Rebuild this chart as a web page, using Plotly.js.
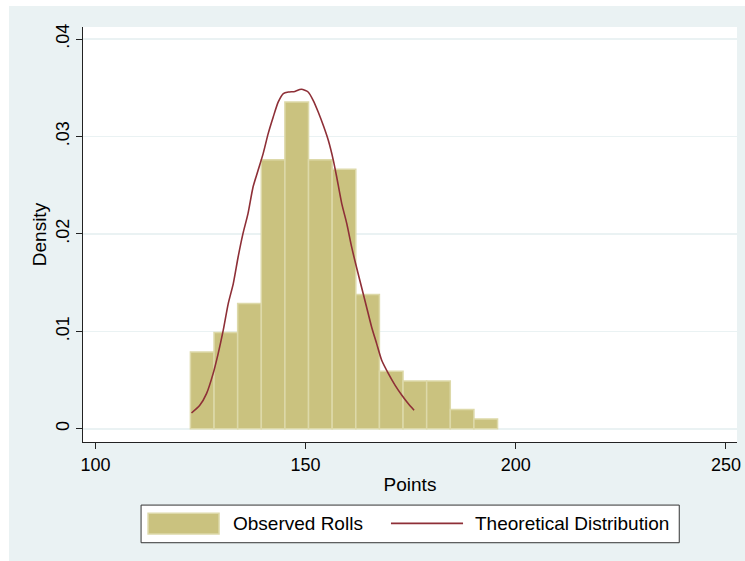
<!DOCTYPE html>
<html>
<head>
<meta charset="utf-8">
<script src="https://cdn.plot.ly/plotly-3.0.1.min.js"></script>
<style>
  html, body { margin: 0; padding: 0; background: #ffffff; width: 745px; height: 561px; overflow: hidden; }
  #chart { position: absolute; left: 9px; top: 6px; width: 736px; height: 555px; }
</style>
</head>
<body>
<div id="chart"></div>
<script>
// ---- data ----
const binStart = 122.6;
const binWidth = 5.62;
const densities = [0.00788, 0.00987, 0.01285, 0.02762, 0.03354, 0.02762, 0.02663,
                   0.01377, 0.0059, 0.00491, 0.00491, 0.00197, 0.00101];

const curveX = [122.86, 124.83, 126.43, 128.0, 129.2, 130.4, 131.6, 132.8, 133.95, 135.1,
                136.3, 137.5, 138.7, 139.9, 141.1, 142.3, 143.5, 144.7, 145.9, 147.45,
                148.6, 149.05, 150.6, 151.8, 153.0, 154.2, 155.4, 156.6, 157.4, 158.6,
                159.8, 160.95, 162.1, 163.3, 164.5, 165.7, 166.9, 168.1, 169.7, 171.3,
                172.9, 174.4, 175.8];
const curveY = [0.00162, 0.00241, 0.00361, 0.00566, 0.00772, 0.0101, 0.01285, 0.0149, 0.01763, 0.02003,
                0.02208, 0.02481, 0.02653, 0.02824, 0.03029, 0.0320, 0.03354, 0.0344, 0.03456, 0.03462,
                0.03481, 0.03484, 0.03456, 0.03371, 0.03251, 0.03114, 0.0296, 0.02755, 0.02584, 0.02311,
                0.02106, 0.01866, 0.0166, 0.01455, 0.0125, 0.01045, 0.00874, 0.00703, 0.00566, 0.00446,
                0.00344, 0.00259, 0.0019];

const xTicks = [100, 150, 200, 250];
const xTickLabels = ['100', '150', '200', '250'];
const yTicks = [0, 0.01, 0.02, 0.03, 0.04];
const yTickLabels = ['0', '.01', '.02', '.03', '.04'];

const seriesNames = ['Observed Rolls', 'Theoretical Distribution'];
const xTitle = 'Points';
const yTitle = 'Density';

// ---- styles ----
const BG = '#EAF2F3';
const BAR = '#CAC27F';
const BAR_EDGE = '#DDD9A9';
const CURVE = '#8E2F37';
const FONT = 'Liberation Sans, Arial, sans-serif';

const binCenters = densities.map((d, i) => binStart + binWidth * (i + 0.5));

const traces = [
  {
    type: 'bar',
    name: seriesNames[0],
    x: binCenters,
    y: densities,
    width: binWidth,
    marker: { color: BAR, line: { color: BAR_EDGE, width: 1.5 } },
    hoverinfo: 'x+y'
  },
  {
    type: 'scatter',
    mode: 'lines',
    name: seriesNames[1],
    x: curveX,
    y: curveY,
    line: { color: CURVE, width: 1.6, shape: 'spline', smoothing: 0.6 },
    hoverinfo: 'x+y'
  }
];

// legend geometry (paper coords)
const legY = -0.196;
const layout = {
  width: 736,
  height: 555,
  margin: { l: 74, r: 8, t: 21, b: 119 },
  paper_bgcolor: BG,
  plot_bgcolor: '#ffffff',
  showlegend: false,
  bargap: 0,
  font: { family: FONT, size: 18, color: '#000000' },
  xaxis: {
    range: [97.05, 252.62],
    tickvals: xTicks,
    ticktext: xTickLabels,
    ticks: 'outside',
    ticklen: 6,
    tickwidth: 1,
    tickcolor: '#222222',
    showline: true,
    linecolor: '#222222',
    linewidth: 1.2,
    showgrid: false,
    zeroline: false,
    tickfont: { family: FONT, size: 18, color: '#000' },
    title: { text: xTitle, font: { family: FONT, size: 19, color: '#000' }, standoff: 4 }
  },
  yaxis: {
    range: [-0.001355, 0.041231],
    tickvals: yTicks,
    ticktext: yTickLabels,
    tickangle: -90,
    ticks: 'outside',
    ticklen: 6,
    tickwidth: 1,
    tickcolor: '#222222',
    showline: true,
    linecolor: '#222222',
    linewidth: 1.2,
    showgrid: true,
    gridcolor: BG,
    gridwidth: 1.6,
    zeroline: false,
    tickfont: { family: FONT, size: 18, color: '#000' },
    title: { text: '' }
  },
  annotations: [
    {
      xref: 'paper', yref: 'paper', x: -0.0662, y: 0.5,
      text: yTitle, textangle: -90, showarrow: false,
      xanchor: 'center', yanchor: 'middle',
      font: { family: FONT, size: 19, color: '#000' }
    },
    {
      xref: 'paper', yref: 'paper', x: 0.2268, y: legY,
      text: seriesNames[0], showarrow: false, xanchor: 'left', yanchor: 'middle',
      font: { family: FONT, size: 19, color: '#000' }
    },
    {
      xref: 'paper', yref: 'paper', x: 0.5964, y: legY,
      text: seriesNames[1], showarrow: false, xanchor: 'left', yanchor: 'middle',
      font: { family: FONT, size: 19, color: '#000' }
    }
  ],
  shapes: [
    { type: 'rect', xref: 'paper', yref: 'paper', x0: 0.0888, x1: 0.9117, y0: -0.2427, y1: -0.1520,
      fillcolor: '#ffffff', line: { color: '#333333', width: 1 }, layer: 'below' },
    { type: 'rect', xref: 'paper', yref: 'paper', x0: 0.0995, x1: 0.2080, y0: -0.2214, y1: -0.1718,
      fillcolor: BAR, line: { color: BAR_EDGE, width: 1.5 } },
    { type: 'line', xref: 'paper', yref: 'paper', x0: 0.4709, x1: 0.5811, y0: legY, y1: legY,
      line: { color: CURVE, width: 1.6 } }
  ]
};

Plotly.newPlot('chart', traces, layout, { displayModeBar: false, staticPlot: true });
</script>
</body>
</html>
